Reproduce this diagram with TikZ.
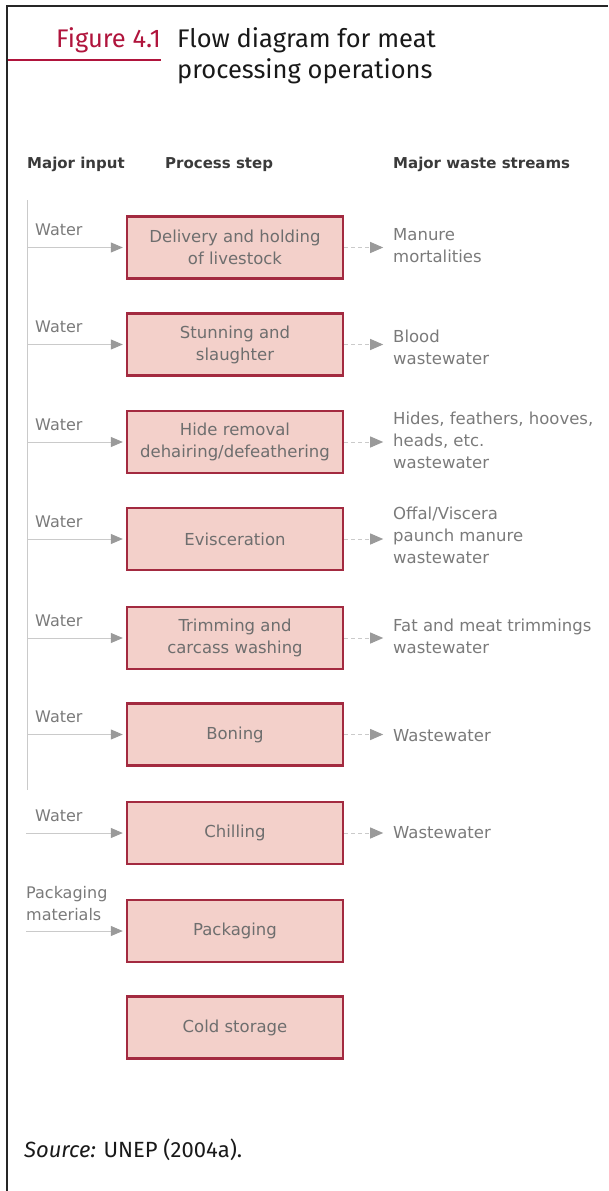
\documentclass[tikz,border=0pt]{standalone}
\usepackage{fontspec}
\setmainfont{Fira Sans}
\newfontfamily\diagfont{DejaVu Sans}
\usetikzlibrary{arrows.meta}
\definecolor{crimson}{HTML}{B0143C}
\definecolor{boxfill}{HTML}{F3D0CA}
\definecolor{boxline}{HTML}{A32A40}
\definecolor{boxtext}{HTML}{6E6E6E}
\definecolor{lbltext}{HTML}{7A7A7A}
\definecolor{headtext}{HTML}{3A3A3A}
\definecolor{flowline}{HTML}{CACACA}
\definecolor{headgrey}{HTML}{9A9A9A}
\tikzset{
  stepbox/.style={draw=boxline, line width=2.4pt, fill=boxfill, minimum width=216pt, minimum height=62pt, inner sep=0pt, align=center, text=boxtext, font=\diagfont\fontsize{16.5}{22}\selectfont},
  headlbl/.style={anchor=base west, inner sep=0pt, text=headtext, font=\diagfont\bfseries\fontsize{15}{18}\selectfont},
  inlbl/.style={anchor=base west, inner sep=0pt, text=lbltext, align=left, font=\diagfont\fontsize{16}{22}\selectfont},
  outlbl/.style={anchor=west, inner sep=0pt, text=lbltext, align=left, font=\diagfont\fontsize{16.5}{22}\selectfont},
  titletext/.style={inner sep=0pt, font=\fontsize{25.5}{31}\selectfont},
  inarrow/.style={draw=flowline, line width=1pt, -{Triangle[length=12pt,width=10pt,fill=headgrey,color=headgrey]}, shorten >=3pt},
  outarrow/.style={draw=flowline, line width=1pt, dash pattern=on 4pt off 3pt, -{Triangle[length=13pt,width=11pt,fill=headgrey,color=headgrey]}},
}
\begin{document}
\begin{tikzpicture}[x=1pt,y=-1pt]
\useasboundingbox (0,0) rectangle (608,1191);
% frame
\draw[line width=2.6pt, black!85] (7,1191) -- (7,6) -- (608,6);
% title
\draw[crimson, line width=2.4pt] (8,60) -- (161,60);
\node[titletext, anchor=base east, text=crimson] (fig) at (161,47) {Figure 4.1};
\node[titletext, anchor=base west, text=black!90] (t1) at (177,47) {Flow diagram for meat};
\node[titletext, anchor=base west, text=black!90] (t2) at (177,78) {processing operations};
% headers
\node[headlbl] (h1) at (27,168) {Major input};
\node[headlbl] (h2) at (165,168) {Process step};
\node[headlbl] (h3) at (393,168) {Major waste streams};
% boxes
\node[stepbox] (b1) at (235,247.5) {Delivery and holding\\of livestock};
\node[stepbox] (b2) at (235,344.5) {Stunning and\\slaughter};
\node[stepbox] (b3) at (235,442) {Hide removal\\dehairing/defeathering};
\node[stepbox] (b4) at (235,539) {Evisceration};
\node[stepbox] (b5) at (235,638) {Trimming and\\carcass washing};
\node[stepbox] (b6) at (235,734.5) {Boning};
\node[stepbox] (b7) at (235,833) {Chilling};
\node[stepbox] (b8) at (235,931) {Packaging};
\node[stepbox] (b9) at (235,1027.5) {Cold storage};
% input spine
\coordinate (vtop) at (27,200);
\coordinate (vbot) at (27,790);
\draw[flowline, line width=1pt] (vtop) -- (vbot);
% inputs
\foreach \i in {1,...,6} {
  \coordinate (in\i) at (b\i.west -| vtop);
  \draw[inarrow] (in\i) -- (b\i.west);
  \node[inlbl] (w\i) at ([xshift=8pt,yshift=12pt]in\i) {Water};
}
\coordinate (in7) at ([xshift=-1pt]b7.west -| vtop);
\draw[inarrow] (in7) -- (b7.west);
\node[inlbl] (w7) at ([xshift=9pt,yshift=12pt]in7) {Water};
\coordinate (in8) at ([xshift=-1pt]b8.west -| vtop);
\draw[inarrow] (in8) -- (b8.west);
\node[inlbl, anchor=west] (w8) at (26,904) {Packaging\\materials};
% outputs
\foreach \i in {1,...,7} {
  \coordinate (out\i) at ([xshift=39pt]b\i.east);
  \draw[outarrow] (b\i.east) -- (out\i);
}
\node[outlbl] (o1) at (393,246) {Manure\\mortalities};
\node[outlbl] (o2) at (393,347) {Blood\\wastewater};
\node[outlbl] (o3) at (393,440) {Hides, feathers, hooves,\\heads, etc.\\wastewater};
\node[outlbl] (o4) at (393,535) {Offal/Viscera\\paunch manure\\wastewater};
\node[outlbl] (o5) at (393,636) {Fat and meat trimmings\\wastewater};
\node[outlbl] (o6) at (393,736) {Wastewater};
\node[outlbl] (o7) at (393,833) {Wastewater};
% source
\node[anchor=base west, inner sep=0pt, text=black!90, font=\fontsize{22}{26}\selectfont] (src) at (24,1157) {\textit{Source:} UNEP (2004a).};
\end{tikzpicture}
\end{document}
